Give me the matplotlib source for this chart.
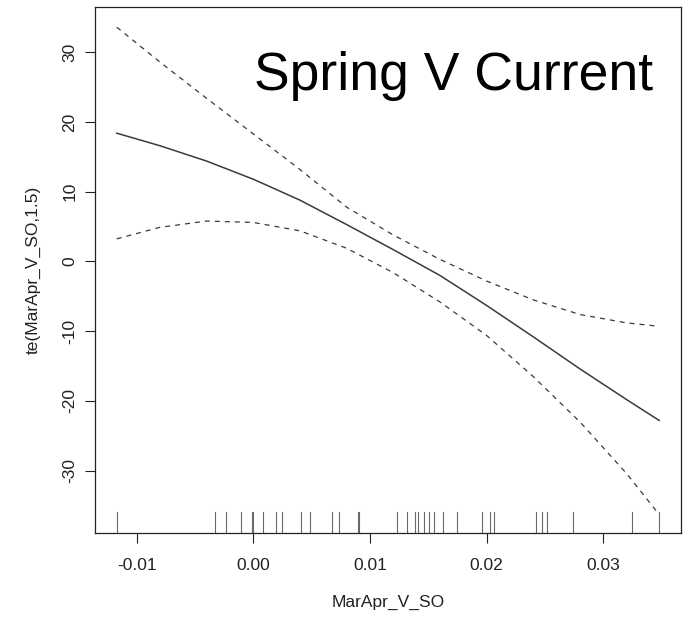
import numpy as np
import matplotlib
matplotlib.use("Agg")
import matplotlib.pyplot as plt

# smooth term te(MarApr_V_SO,1.5)
x_pts = [-0.0117, -0.008, -0.004, 0.0, 0.004, 0.008, 0.012, 0.016,
         0.020, 0.024, 0.028, 0.032, 0.0348]
fit = [18.4, 16.6, 14.4, 11.8, 8.8, 5.3, 1.7, -2.0,
       -6.3, -10.8, -15.4, -19.8, -22.8]
upper = [33.6, 28.6, 23.4, 18.3, 13.2, 7.8, 3.8, 0.3,
         -2.8, -5.5, -7.6, -8.8, -9.3]
lower = [3.25, 4.9, 5.8, 5.6, 4.4, 1.9, -1.6, -5.8,
         -10.6, -16.5, -23.0, -30.4, -36.3]

# rug of observed MarApr_V_SO values
rug_x = [-0.01171, -0.00328, -0.00234, -0.00108, -0.00014, 0.0, 0.00086,
         0.00192, 0.00243, 0.00406, 0.00486, 0.00677, 0.00737, 0.00895,
         0.00909, 0.01232, 0.01315, 0.01386, 0.01414, 0.01466, 0.01506,
         0.01551, 0.01629, 0.01749, 0.01958, 0.02029, 0.02066, 0.02421,
         0.02472, 0.02520, 0.02743, 0.03243, 0.03480]

x_ticks = [-0.01, 0.0, 0.01, 0.02, 0.03]
x_ticklabels = ["-0.01", "0.00", "0.01", "0.02", "0.03"]
y_ticks = [-30, -20, -10, 0, 10, 20, 30]

plt.rcParams['font.family'] = ['Liberation Sans', 'DejaVu Sans']

fig = plt.figure(figsize=(6.83, 6.19), dpi=100)
ax = fig.add_axes([0.139, 0.1384, 0.858, 0.8498])

line_col = "#3a3a3a"
ax.plot(x_pts, fit, color=line_col, lw=1.1)
ax.plot(x_pts, upper, color=line_col, lw=0.9, dashes=(4, 4))
ax.plot(x_pts, lower, color=line_col, lw=0.9, dashes=(4, 4))

# rug along the bottom
for rx in rug_x:
    ax.axvline(rx, ymin=0, ymax=0.04, color="#6a6a6a", lw=0.8)

ax.set_xlim(-0.01357, 0.03666)
ax.set_ylim(-38.98, 36.45)
ax.set_xticks(x_ticks)
ax.set_xticklabels(x_ticklabels)
ax.set_yticks(y_ticks)
ax.set_yticklabels([str(v) for v in y_ticks], rotation=90, va="center")

ax.tick_params(direction="out", length=7.5, width=0.8, colors="#222222",
               labelsize=12.5)
ax.tick_params(axis="x", pad=10)
ax.tick_params(axis="y", pad=5)
for s in ax.spines.values():
    s.set_color("#222222")
    s.set_linewidth(0.9)

ax.set_xlabel("MarApr_V_SO", fontsize=12.5, color="#222222", labelpad=16)
ax.set_ylabel("te(MarApr_V_SO,1.5)", fontsize=12.5, color="#222222", labelpad=16)

ax.text(0.952, 0.843, "Spring V Current", transform=ax.transAxes,
        ha="right", va="baseline", fontsize=38.5, color="black")

fig.savefig("out.png", dpi=100)
